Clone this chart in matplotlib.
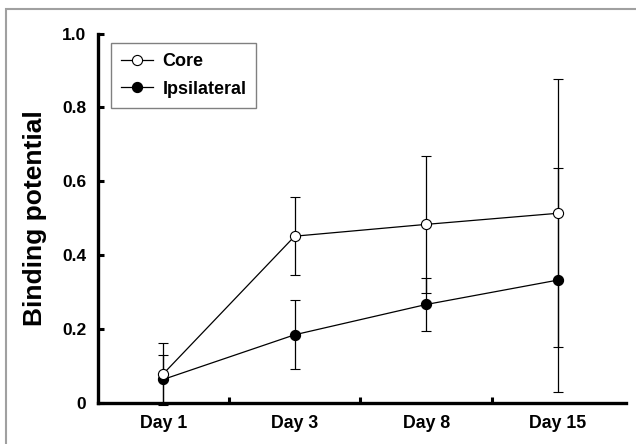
import matplotlib
matplotlib.use("Agg")
import matplotlib.pyplot as plt
from matplotlib.patches import Rectangle
from matplotlib.lines import Line2D
from matplotlib.ticker import FixedLocator

days = ["Day 1", "Day 3", "Day 8", "Day 15"]
core = [0.078, 0.451, 0.483, 0.513]
core_err = [0.085, 0.105, 0.186, 0.363]
ipsi = [0.063, 0.184, 0.266, 0.332]
ipsi_err = [0.066, 0.093, 0.073, 0.303]
yticks = [0, 0.2, 0.4, 0.6, 0.8, 1.0]
ytick_labels = ["0", "0.2", "0.4", "0.6", "0.8", "1.0"]

plt.rcParams['font.family'] = ['Liberation Sans', 'DejaVu Sans']
plt.rcParams['font.weight'] = 'bold'

W, H = 636, 444
fig = plt.figure(figsize=(W / 100, H / 100), dpi=100)
ax = fig.add_axes([97.5 / W, 1 - 402.7 / H, (626 - 97.5) / W, (402.7 - 33.5) / H])

x = [i + 0.5 for i in range(len(days))]

h_ipsi = ax.errorbar(x, ipsi, yerr=ipsi_err, color='black', lw=0.9, marker='o',
                     ms=7.3, mfc='black', mec='black', mew=0.8, capsize=3.5,
                     elinewidth=0.9, capthick=0.9, zorder=3)
h_core = ax.errorbar(x, core, yerr=core_err, color='black', lw=0.9, marker='o',
                     ms=7.3, mfc='white', mec='black', mew=0.8, capsize=3.5,
                     elinewidth=0.9, capthick=0.9, zorder=4)
for cont in (h_ipsi, h_core):
    cont[0].set_clip_on(False)
    for a in cont[1]:
        a.set_clip_on(False)
    for coll in cont[2]:
        coll.set_clip_on(False)

ax.set_xlim(0, 4.02)
ax.set_ylim(0, 1.0)

ax.set_xticks(x)
ax.set_xticklabels(days, fontsize=12.8, fontweight='bold')
ax.tick_params(axis='x', which='major', length=0, pad=9)
ax.xaxis.set_minor_locator(FixedLocator([1, 2, 3]))
ax.tick_params(axis='x', which='minor', direction='in', length=4.5, width=2.2)

ax.set_yticks(yticks)
ax.set_yticklabels(ytick_labels, fontsize=12.5, fontweight='bold')
ax.tick_params(axis='y', which='major', direction='in', length=4.5, width=2.2, pad=8)

for s in ('top', 'right'):
    ax.spines[s].set_visible(False)
for s in ('left', 'bottom'):
    ax.spines[s].set_linewidth(2.4)

ax.set_ylabel("Binding potential", fontsize=19, fontweight='bold', labelpad=11)

lh_core = Line2D([], [], color='black', lw=0.9, marker='o', ms=7.3,
                 mfc='white', mec='black', mew=0.8)
lh_ipsi = Line2D([], [], color='black', lw=0.9, marker='o', ms=7.3,
                 mfc='black', mec='black', mew=0.8)
leg = ax.legend([lh_core, lh_ipsi], ["Core", "Ipsilateral"],
                loc='upper left', bbox_to_anchor=(111 / W, 1 - 43 / H),
                bbox_transform=fig.transFigure, borderaxespad=0,
                fancybox=False, frameon=True, edgecolor='#808080',
                framealpha=1, prop={'weight': 'bold', 'size': 13},
                handlelength=1.8, handletextpad=0.5, borderpad=0.55,
                labelspacing=0.6)
leg.get_frame().set_linewidth(1.0)

fig.patches.append(Rectangle((6 / W, -0.1), 1.2, 1 - 9.5 / H + 0.1,
                             transform=fig.transFigure, fill=False,
                             edgecolor='#a0a0a0', lw=1.5, zorder=0))

fig.savefig("out.png", dpi=100)
